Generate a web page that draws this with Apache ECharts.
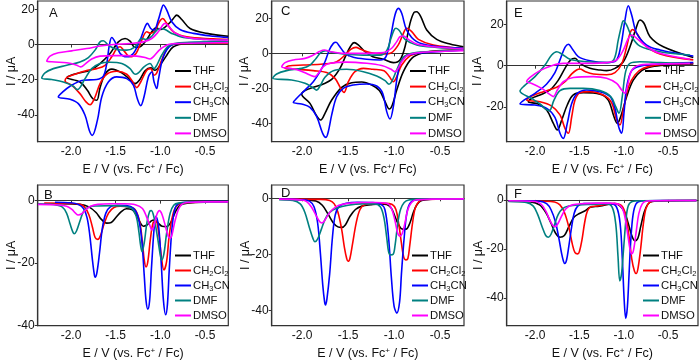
<!DOCTYPE html>
<html><head><meta charset="utf-8">
<script src="https://cdn.jsdelivr.net/npm/echarts@6/dist/echarts.min.js"></script>
<style>html,body{margin:0;padding:0;background:#fff}#c{width:700px;height:364px}</style>
</head><body><div id="c"></div>
<script>
// ---------- tick labels ----------
const xTicks = [-2.0, -1.5, -1.0, -0.5];
const yTicksA = [20, 0, -20, -40];
const yTicksC = [20, 0, -20, -40];
const yTicksE = [20, 0, -20];
const yTicksBottom = [0, -20, -40];
const solvents = ['THF', 'CH2Cl2', 'CH3CN', 'DMF', 'DMSO'];

// ---------- Panel A (CV) : [E / V, I / uA] ----------
const A_THF = [[-0.24,1.1],[-0.705,0.6],[-0.854,-1.3],[-0.928,-6.1],[-1.003,-11.8],[-1.06,-14.6],[-1.108,-13.3],[-1.171,-15.0],[-1.235,-20.3],[-1.283,-22.2],[-1.339,-19.9],[-1.432,-16.1],[-1.544,-14.0],[-1.619,-16.9],[-1.675,-24.5],[-1.712,-31.7],[-1.758,-30.7],[-1.817,-26.0],[-1.9,-21.3],[-2.048,-18.8],
[-1.992,-17.3],[-1.9,-16.1],[-1.787,-14.6],[-1.675,-10.8],[-1.563,-5.1],[-1.47,1.5],[-1.395,3.4],[-1.339,1.9],[-1.283,-1.7],[-1.227,-1.3],[-1.152,2.8],[-1.096,7.2],[-1.048,9.5],[-0.996,8.5],[-0.91,11.6],[-0.854,14.8],[-0.816,16.7],[-0.76,14.2],[-0.667,9.1],[-0.48,6.3],[-0.24,4.7]];
const A_CH2Cl2 = [[-0.24,0.9],[-0.78,0.6],[-0.91,-1.3],[-0.985,-8.9],[-1.04,-16.1],[-1.07,-17.5],[-1.108,-13.7],[-1.152,-14.6],[-1.22,-21.3],[-1.264,-24.5],[-1.309,-21.3],[-1.376,-16.9],[-1.488,-15.2],[-1.6,-16.9],[-1.675,-22.2],[-1.731,-29.8],[-1.787,-34.2],[-1.832,-32.6],[-1.9,-27.9],[-1.992,-23.1],[-2.067,-20.7],
[-2.048,-18.8],[-1.955,-16.9],[-1.843,-15.0],[-1.712,-13.7],[-1.619,-11.8],[-1.544,-7.0],[-1.488,-2.3],[-1.45,-1.3],[-1.407,-3.6],[-1.339,-7.0],[-1.272,-5.1],[-1.208,2.5],[-1.152,7.2],[-1.108,6.3],[-1.06,7.8],[-1.011,12.9],[-0.973,14.8],[-0.928,12.0],[-0.854,7.2],[-0.705,4.4],[-0.407,3.2],[-0.24,2.8]];
const A_CH3CN = [[-0.24,1.5],[-0.705,0.9],[-0.877,-0.4],[-0.966,-7.0],[-1.023,-20.3],[-1.04,-25.0],[-1.07,-21.3],[-1.096,-15.6],[-1.134,-18.4],[-1.183,-29.8],[-1.22,-34.7],[-1.258,-30.7],[-1.302,-23.1],[-1.376,-19.4],[-1.488,-18.4],[-1.582,-21.3],[-1.656,-29.8],[-1.705,-43.1],[-1.762,-51.6],[-1.795,-48.8],[-1.843,-40.2],[-1.918,-33.6],[-2.011,-31.1],[-2.142,-29.8],
[-2.104,-27.5],[-2.011,-23.7],[-1.862,-20.3],[-1.712,-19.9],[-1.638,-18.0],[-1.6,-10.8],[-1.571,-0.4],[-1.544,4.0],[-1.507,1.5],[-1.45,-5.1],[-1.376,-7.0],[-1.302,-5.1],[-1.227,2.5],[-1.171,10.1],[-1.145,12.0],[-1.108,9.1],[-1.071,8.2],[-1.023,13.9],[-0.985,20.5],[-0.966,22.4],[-0.928,19.5],[-0.872,12.9],[-0.78,8.5],[-0.63,6.3],[-0.407,4.7],[-0.24,4.0]];
const A_DMF = [[-0.24,1.5],[-0.78,0.9],[-0.91,-0.9],[-0.985,-6.1],[-1.04,-11.8],[-1.07,-13.7],[-1.115,-10.8],[-1.183,-12.7],[-1.246,-16.1],[-1.283,-16.9],[-1.339,-13.7],[-1.432,-10.8],[-1.563,-10.1],[-1.675,-10.8],[-1.768,-13.7],[-1.843,-19.4],[-1.9,-24.5],[-1.93,-25.6],[-1.974,-23.7],[-2.086,-21.3],[-2.216,-19.9],[-2.328,-19.0],
[-2.291,-16.1],[-2.198,-13.7],[-2.048,-11.8],[-1.9,-9.9],[-1.806,-7.4],[-1.731,-3.2],[-1.675,1.5],[-1.638,2.1],[-1.582,-0.4],[-1.488,-2.8],[-1.376,-3.2],[-1.283,-1.3],[-1.208,3.4],[-1.152,2.8],[-1.096,4.7],[-1.04,8.2],[-1.003,9.1],[-0.947,8.5],[-0.872,6.3],[-0.742,4.0],[-0.48,2.8],[-0.24,2.5]];
const A_DMSO = [[-0.24,1.1],[-0.78,0.6],[-0.91,0],[-1.003,-2.8],[-1.071,-6.6],[-1.115,-8.2],[-1.171,-7.4],[-1.264,-6.6],[-1.376,-6.3],[-1.526,-6.3],[-1.675,-6.6],[-1.768,-8.2],[-1.843,-11.2],[-1.892,-12.7],[-1.944,-11.6],[-2.048,-10.4],[-2.179,-9.9],[-2.272,-9.5],
[-2.235,-6.6],[-2.142,-4.7],[-1.992,-3.6],[-1.824,-2.3],[-1.675,-0.9],[-1.526,0],[-1.339,0.6],[-1.19,1.5],[-1.096,3.4],[-1.023,7.2],[-0.973,11.0],[-0.947,12.0],[-0.91,10.4],[-0.835,6.6],[-0.705,4.0],[-0.48,2.8],[-0.24,2.5]];

// ---------- Panel B (DPV) ----------
const B_THF = [[-2.30,-1.0],[-2.1,-1.0],[-1.9,-1.2],[-1.8,-2.0],[-1.72,-3.8],[-1.66,-6.0],[-1.60,-7.2],[-1.55,-7.0],[-1.50,-5.5],[-1.44,-3.6],[-1.38,-2.6],[-1.32,-2.8],[-1.27,-4.5],[-1.22,-7.3],[-1.19,-8.2],[-1.15,-7.8],[-1.10,-6.5],[-1.07,-6.2],[-1.03,-7.0],[-0.98,-8.2],[-0.93,-8.3],[-0.88,-6.8],[-0.83,-3.5],[-0.78,-1.5],[-0.7,-0.8],[-0.5,-0.5],[-0.24,-0.5]];
const B_CH2Cl2 = [[-2.30,-0.8],[-2.0,-0.9],[-1.90,-1.2],[-1.85,-2.0],[-1.80,-4.5],[-1.76,-8.5],[-1.73,-11.8],[-1.70,-12.4],[-1.67,-11.2],[-1.63,-7.5],[-1.58,-4.0],[-1.52,-2.2],[-1.45,-1.8],[-1.35,-2.0],[-1.28,-3.0],[-1.23,-7.0],[-1.20,-13.5],[-1.18,-19.0],[-1.16,-21.2],[-1.14,-19.5],[-1.11,-12.0],[-1.08,-7.0],[-1.05,-6.5],[-1.02,-10],[-0.99,-17.5],[-0.96,-22.2],[-0.93,-19.5],[-0.90,-11],[-0.86,-4.5],[-0.82,-1.8],[-0.75,-0.8],[-0.5,-0.5],[-0.24,-0.4]];
const B_CH3CN = [[-2.18,-0.5],[-2.0,-0.7],[-1.92,-1.2],[-1.86,-2.5],[-1.82,-5.5],[-1.79,-11],[-1.76,-19],[-1.74,-23.5],[-1.73,-24.5],[-1.71,-23],[-1.68,-16.5],[-1.65,-9],[-1.61,-4],[-1.56,-2],[-1.48,-1.5],[-1.38,-1.6],[-1.30,-2.5],[-1.25,-5],[-1.21,-12],[-1.18,-24],[-1.16,-32],[-1.14,-34.7],[-1.12,-32],[-1.10,-22],[-1.07,-9],[-1.05,-5],[-1.02,-8],[-0.99,-20],[-0.965,-32],[-0.94,-36.5],[-0.92,-33],[-0.90,-22],[-0.87,-9],[-0.84,-3],[-0.80,-1],[-0.7,-0.5],[-0.5,-0.3],[-0.24,-0.3]];
const B_DMF = [[-2.37,-1.0],[-2.2,-1.2],[-2.10,-2.0],[-2.05,-4.0],[-2.01,-7.5],[-1.98,-10],[-1.965,-10.6],[-1.94,-9.8],[-1.90,-6.5],[-1.86,-3.5],[-1.80,-2.0],[-1.70,-1.7],[-1.55,-1.6],[-1.40,-1.8],[-1.32,-2.5],[-1.27,-5],[-1.24,-10],[-1.22,-14.5],[-1.205,-16.3],[-1.18,-13.5],[-1.15,-7],[-1.12,-3.5],[-1.10,-3.2],[-1.07,-5.5],[-1.03,-12],[-1.00,-17.5],[-0.985,-19],[-0.96,-17],[-0.93,-10.5],[-0.89,-4],[-0.85,-1.5],[-0.8,-0.8],[-0.6,-0.5],[-0.24,-0.4]];
const B_DMSO = [[-2.37,-1.2],[-2.2,-1.3],[-2.05,-1.8],[-1.99,-2.8],[-1.95,-4.0],[-1.92,-4.6],[-1.88,-4.2],[-1.84,-3.0],[-1.78,-1.8],[-1.70,-1.2],[-1.55,-1.0],[-1.40,-1.0],[-1.28,-1.3],[-1.20,-2.5],[-1.15,-5.5],[-1.11,-8.5],[-1.095,-9.4],[-1.07,-8],[-1.04,-4.5],[-1.01,-3.2],[-0.98,-4.5],[-0.94,-8.5],[-0.91,-11.5],[-0.89,-12],[-0.87,-11],[-0.84,-7],[-0.80,-3],[-0.76,-1.2],[-0.7,-0.6],[-0.5,-0.4],[-0.24,-0.4]];

// ---------- Panel C (CV) ----------
const C_THF = [[-0.247,1.9],[-0.537,1.5],[-0.7,0],[-0.808,-2.9],[-0.899,-10.5],[-0.971,-21.0],[-1.019,-29.5],[-1.052,-31.8],[-1.098,-27.6],[-1.16,-21.3],[-1.243,-18.1],[-1.352,-16.4],[-1.46,-16.8],[-1.569,-19.4],[-1.678,-26.7],[-1.751,-34.3],[-1.797,-38.1],[-1.848,-35.2],[-1.914,-28.6],[-2.004,-23.2],
[-1.968,-21.3],[-1.878,-19.4],[-1.769,-17.5],[-1.678,-14.9],[-1.588,-8.6],[-1.522,-1.0],[-1.471,4.2],[-1.435,6.1],[-1.389,4.8],[-1.316,1.0],[-1.231,-1.9],[-1.117,-3.4],[-1.008,-5.3],[-0.936,-3.8],[-0.881,3.8],[-0.827,17.1],[-0.783,23.4],[-0.754,23.8],[-0.71,21.0],[-0.645,13.3],[-0.537,8.0],[-0.392,5.3],[-0.247,3.8]];
const C_CH2Cl2 = [[-0.247,1.9],[-0.537,1.3],[-0.718,0.4],[-0.827,-1.5],[-0.917,-6.7],[-0.971,-13.3],[-1.008,-16.2],[-1.052,-13.3],[-1.109,-9.9],[-1.231,-9.1],[-1.334,-8.6],[-1.425,-10.5],[-1.497,-16.2],[-1.544,-22.3],[-1.58,-20.0],[-1.642,-14.3],[-1.732,-11.0],[-1.878,-9.9],[-2.058,-9.1],[-2.185,-8.6],
[-2.15,-7.2],[-1.986,-6.7],[-1.769,-6.1],[-1.624,-4.8],[-1.533,-1.0],[-1.471,2.3],[-1.414,3.4],[-1.362,2.3],[-1.262,0.4],[-1.117,-0.4],[-1.026,0.4],[-0.954,4.8],[-0.906,10.5],[-0.863,14.3],[-0.808,12.4],[-0.736,8.0],[-0.573,4.8],[-0.247,2.9]];
const C_CH3CN = [[-0.247,1.9],[-0.609,0.6],[-0.827,-0.6],[-0.917,-3.8],[-0.965,-13.3],[-1.008,-30.5],[-1.044,-37.5],[-1.08,-33.3],[-1.124,-22.9],[-1.189,-18.7],[-1.297,-17.5],[-1.443,-18.1],[-1.552,-20.0],[-1.624,-24.8],[-1.678,-35.2],[-1.715,-44.8],[-1.74,-48.0],[-1.776,-45.7],[-1.841,-36.2],[-1.914,-30.9],[-2.004,-29.0],[-2.095,-28.0],
[-2.058,-25.7],[-1.968,-21.0],[-1.878,-16.2],[-1.805,-10.5],[-1.751,-4.8],[-1.704,1.9],[-1.66,5.7],[-1.631,6.3],[-1.595,4.2],[-1.533,0],[-1.443,-2.3],[-1.297,-3.4],[-1.153,-3.8],[-1.088,-1.9],[-1.037,9.5],[-0.99,21.9],[-0.954,25.7],[-0.917,22.9],[-0.863,13.3],[-0.754,6.7],[-0.573,4.2],[-0.247,2.9]];
const C_DMF = [[-0.247,1.9],[-0.609,1.0],[-0.808,0],[-0.899,-2.3],[-0.971,-9.5],[-1.026,-16.2],[-1.055,-17.7],[-1.098,-15.6],[-1.189,-13.0],[-1.334,-10.5],[-1.515,-9.1],[-1.66,-9.9],[-1.751,-13.7],[-1.805,-18.7],[-1.841,-21.0],[-1.884,-19.6],[-1.968,-17.1],[-2.113,-15.2],[-2.319,-14.3],
[-2.276,-11.8],[-2.167,-9.9],[-2.004,-8.6],[-1.914,-6.7],[-1.848,-2.9],[-1.797,0.4],[-1.74,1.5],[-1.678,0.6],[-1.552,-0.4],[-1.334,-1.0],[-1.153,-1.0],[-1.08,1.5],[-1.037,8.0],[-1.001,13.3],[-0.979,14.3],[-0.943,13.0],[-0.881,8.0],[-0.754,4.8],[-0.537,3.4],[-0.247,2.5]];
const C_DMSO = [[-0.247,1.5],[-0.682,0.6],[-0.845,-1.0],[-0.917,-4.8],[-0.961,-9.1],[-0.99,-10.5],[-1.037,-9.0],[-1.135,-7.0],[-1.297,-5.7],[-1.515,-5.0],[-1.696,-5.7],[-1.769,-7.6],[-1.823,-11.4],[-1.859,-13.3],[-1.914,-12.4],[-2.022,-9.9],[-2.131,-8.6],[-2.221,-7.6],
[-2.185,-5.3],[-2.095,-3.8],[-1.968,-2.9],[-1.878,-1.0],[-1.812,1.0],[-1.758,1.9],[-1.696,1.0],[-1.552,0],[-1.334,0],[-1.117,0.4],[-1.026,2.9],[-0.971,6.7],[-0.936,9.5],[-0.899,9.9],[-0.845,8.0],[-0.754,5.3],[-0.573,3.8],[-0.247,2.5]];

// ---------- Panel D (DPV) ----------
const D_THF = [[-2.25,-0.3],[-2.0,-0.5],[-1.85,-1.0],[-1.78,-2.5],[-1.72,-5.5],[-1.66,-8.8],[-1.61,-10.2],[-1.57,-10.4],[-1.53,-9.5],[-1.48,-6.5],[-1.42,-4.0],[-1.35,-2.8],[-1.25,-2.3],[-1.15,-2.0],[-1.08,-2.2],[-1.03,-3.5],[-0.99,-6.5],[-0.95,-9.5],[-0.91,-11],[-0.87,-11],[-0.83,-9.0],[-0.79,-5],[-0.75,-2.2],[-0.70,-0.8],[-0.6,-0.3],[-0.24,-0.2]];
const D_CH2Cl2 = [[-2.25,-0.3],[-1.8,-0.4],[-1.7,-0.8],[-1.65,-2.0],[-1.61,-5.0],[-1.57,-11],[-1.54,-17.5],[-1.515,-21.5],[-1.50,-22.5],[-1.48,-21.5],[-1.45,-16],[-1.41,-8.5],[-1.37,-4.0],[-1.32,-2.3],[-1.2,-1.8],[-1.1,-1.8],[-1.02,-2.2],[-0.98,-4.0],[-0.95,-9],[-0.92,-16],[-0.895,-21],[-0.87,-22],[-0.85,-21.5],[-0.83,-17],[-0.80,-9],[-0.77,-3.5],[-0.73,-1.2],[-0.68,-0.5],[-0.5,-0.3],[-0.24,-0.2]];
const D_CH3CN = [[-2.25,-0.3],[-2.0,-0.5],[-1.92,-1.0],[-1.87,-3],[-1.83,-9],[-1.80,-20],[-1.775,-31],[-1.755,-37],[-1.745,-38.1],[-1.73,-36],[-1.70,-27],[-1.67,-14],[-1.64,-6],[-1.60,-3],[-1.52,-1.8],[-1.4,-1.4],[-1.25,-1.5],[-1.15,-2.0],[-1.10,-4],[-1.06,-14],[-1.03,-28],[-1.00,-38.5],[-0.97,-41],[-0.94,-37],[-0.92,-27],[-0.89,-14],[-0.86,-5],[-0.82,-1.5],[-0.75,-0.5],[-0.5,-0.3],[-0.24,-0.2]];
const D_DMF = [[-2.25,-0.5],[-2.1,-0.8],[-2.02,-2.0],[-1.97,-5],[-1.92,-10.5],[-1.88,-14.5],[-1.86,-15.5],[-1.83,-14.5],[-1.79,-11],[-1.75,-7.5],[-1.70,-5],[-1.62,-3.5],[-1.5,-2.5],[-1.35,-2.0],[-1.22,-2.0],[-1.15,-3],[-1.11,-7],[-1.08,-14],[-1.06,-19],[-1.04,-20.2],[-1.01,-20],[-0.99,-17],[-0.96,-9],[-0.93,-4],[-0.89,-1.5],[-0.84,-0.6],[-0.7,-0.3],[-0.24,-0.2]];
const D_DMSO = [[-2.25,-0.3],[-2.0,-0.6],[-1.95,-1.2],[-1.90,-3],[-1.85,-6],[-1.81,-8.3],[-1.785,-8.8],[-1.76,-8.2],[-1.72,-6],[-1.67,-4],[-1.60,-2.5],[-1.5,-1.8],[-1.35,-1.5],[-1.2,-1.5],[-1.08,-1.8],[-1.03,-3.5],[-0.99,-8],[-0.96,-12.5],[-0.935,-13.5],[-0.91,-12.5],[-0.88,-8.5],[-0.85,-4],[-0.81,-1.5],[-0.76,-0.5],[-0.6,-0.3],[-0.24,-0.2]];

// ---------- Panel E (CV) ----------
const E_THF = [[-0.216,0.8],[-0.516,0.3],[-0.685,-0.5],[-0.798,-2.4],[-0.893,-7.0],[-0.967,-15.0],[-1.035,-24.8],[-1.073,-28.0],[-1.11,-24.8],[-1.175,-16.7],[-1.268,-13.8],[-1.456,-13.1],[-1.569,-14.2],[-1.637,-19.1],[-1.7,-26.4],[-1.749,-31.2],[-1.794,-28.0],[-1.869,-21.5],[-1.964,-18.6],[-2.076,-17.5],
[-2.039,-15.9],[-1.945,-14.2],[-1.832,-11.8],[-1.738,-7.0],[-1.663,-1.3],[-1.599,2.8],[-1.55,3.6],[-1.494,1.1],[-1.381,-1.3],[-1.268,-2.1],[-1.193,-2.4],[-1.099,-1.3],[-1.005,1.9],[-0.93,9.2],[-0.862,18.1],[-0.817,22.2],[-0.772,20.6],[-0.704,14.1],[-0.554,9.2],[-0.216,4.0]];
const E_CH2Cl2 = [[-0.216,1.1],[-0.592,0.5],[-0.78,-1.3],[-0.874,-4.5],[-0.949,-10.5],[-1.005,-21.5],[-1.043,-28.8],[-1.08,-26.4],[-1.136,-18.0],[-1.231,-14.2],[-1.381,-12.6],[-1.494,-13.1],[-1.55,-16.7],[-1.587,-24.8],[-1.625,-32.8],[-1.663,-30.4],[-1.719,-23.9],[-1.813,-19.6],[-1.945,-17.5],[-2.095,-16.7],
[-2.05,-15.0],[-1.907,-12.6],[-1.756,-10.5],[-1.663,-7.8],[-1.587,-4.0],[-1.532,-2.1],[-1.494,-1.6],[-1.437,-2.8],[-1.343,-4.0],[-1.193,-4.4],[-1.099,-3.4],[-1.024,0.8],[-0.967,9.2],[-0.93,15.7],[-0.9,17.6],[-0.854,15.7],[-0.761,10.0],[-0.592,5.7],[-0.216,2.8]];
const E_CH3CN = [[-0.216,1.5],[-0.592,0.8],[-0.817,-0.2],[-0.911,-2.4],[-0.967,-10.2],[-0.998,-23.1],[-1.024,-32.8],[-1.058,-29.6],[-1.099,-20.7],[-1.155,-15.0],[-1.268,-12.6],[-1.418,-11.8],[-1.524,-13.4],[-1.587,-18.3],[-1.637,-28.0],[-1.682,-35.3],[-1.719,-32.8],[-1.776,-25.1],[-1.869,-20.7],[-2.001,-19.1],[-2.17,-18.6],
[-2.125,-16.7],[-2.001,-13.4],[-1.869,-8.9],[-1.776,-3.4],[-1.719,2.8],[-1.663,8.9],[-1.625,10.4],[-1.576,7.9],[-1.513,4.4],[-1.381,2.4],[-1.193,1.5],[-1.088,2.4],[-1.035,9.2],[-0.986,22.2],[-0.949,29.1],[-0.911,24.6],[-0.854,15.7],[-0.742,10.0],[-0.592,7.6],[-0.404,6.0],[-0.216,4.7]];
const E_DMF = [[-0.254,1.1],[-0.592,1.5],[-0.817,1.9],[-0.93,1.1],[-0.979,-2.9],[-1.017,-15.0],[-1.054,-23.1],[-1.091,-19.9],[-1.147,-15.0],[-1.268,-12.1],[-1.456,-11.0],[-1.606,-11.0],[-1.719,-12.1],[-1.787,-16.7],[-1.839,-21.8],[-1.877,-21.2],[-1.945,-18.6],[-2.039,-15.9],[-2.17,-12.3],
[-2.125,-9.9],[-2.001,-5.3],[-1.888,0.3],[-1.813,5.2],[-1.756,6.8],[-1.7,5.7],[-1.606,3.1],[-1.418,1.9],[-1.193,1.5],[-1.11,3.1],[-1.062,12.5],[-1.024,19.7],[-1.005,21.8],[-0.967,19.7],[-0.911,14.1],[-0.817,9.5],[-0.592,6.8],[-0.254,5.2]];
const E_DMSO = [[-0.254,1.1],[-0.592,0.8],[-0.817,0.3],[-0.911,-2.4],[-0.956,-9.4],[-0.986,-13.4],[-1.024,-11.8],[-1.08,-8.6],[-1.193,-6.1],[-1.343,-5.3],[-1.569,-5.7],[-1.682,-7.8],[-1.749,-11.8],[-1.794,-15.0],[-1.839,-13.8],[-1.926,-11.0],[-2.039,-8.6],[-2.095,-7.8],
[-2.057,-5.7],[-1.945,-2.4],[-1.813,0],[-1.682,1.1],[-1.418,1.1],[-1.193,1.5],[-1.08,2.8],[-1.005,7.6],[-0.949,13.3],[-0.911,14.9],[-0.854,13.3],[-0.742,9.2],[-0.592,6.0],[-0.254,3.1]];

// ---------- Panel F (DPV) ----------
const F_THF = [[-2.3,-0.5],[-2.05,-0.8],[-1.95,-2.0],[-1.88,-5],[-1.82,-9.5],[-1.77,-13.5],[-1.72,-15.2],[-1.67,-14.5],[-1.62,-11],[-1.56,-7],[-1.50,-5.5],[-1.44,-4.5],[-1.38,-3],[-1.32,-2.7],[-1.26,-2.5],[-1.18,-1.8],[-1.10,-1.5],[-1.04,-2.5],[-0.99,-5],[-0.95,-9.5],[-0.91,-14.5],[-0.875,-16.7],[-0.84,-15.5],[-0.81,-11],[-0.77,-5],[-0.73,-1.8],[-0.68,-0.6],[-0.5,-0.3],[-0.18,-0.2]];
const F_CH2Cl2 = [[-2.3,-0.4],[-1.9,-0.5],[-1.78,-0.8],[-1.72,-2],[-1.67,-5],[-1.62,-11],[-1.58,-18],[-1.55,-21.5],[-1.52,-22],[-1.50,-21],[-1.47,-16],[-1.44,-9],[-1.41,-4.5],[-1.37,-2.8],[-1.30,-2.5],[-1.2,-1.8],[-1.1,-1.5],[-1.02,-2.5],[-0.98,-6],[-0.94,-15],[-0.91,-24],[-0.88,-29],[-0.86,-30],[-0.84,-28],[-0.81,-20],[-0.78,-10],[-0.75,-3.5],[-0.71,-1.0],[-0.65,-0.4],[-0.4,-0.2],[-0.18,-0.2]];
const F_CH3CN = [[-2.3,-0.3],[-1.95,-0.5],[-1.87,-1.5],[-1.82,-4],[-1.77,-9],[-1.73,-16],[-1.70,-22],[-1.68,-25],[-1.665,-25.9],[-1.645,-24.5],[-1.62,-19],[-1.59,-11.5],[-1.56,-5.5],[-1.52,-2.5],[-1.45,-1.5],[-1.35,-1.5],[-1.25,-1.5],[-1.15,-1.5],[-1.08,-3],[-1.04,-10],[-1.015,-25],[-0.995,-41],[-0.978,-48.3],[-0.96,-44],[-0.94,-30],[-0.92,-16],[-0.895,-6],[-0.86,-1.5],[-0.8,-0.4],[-0.5,-0.2],[-0.18,-0.2]];
const F_DMF = [[-2.3,-0.6],[-2.1,-1.0],[-2.02,-2.5],[-1.97,-6],[-1.92,-11],[-1.88,-14.5],[-1.85,-15.2],[-1.82,-14],[-1.78,-10],[-1.74,-6],[-1.69,-3.5],[-1.62,-2.5],[-1.5,-2],[-1.35,-1.8],[-1.2,-1.5],[-1.13,-3],[-1.09,-10],[-1.065,-23],[-1.045,-33],[-1.025,-30],[-1.0,-19],[-0.975,-8],[-0.95,-2.5],[-0.91,-0.7],[-0.8,-0.3],[-0.18,-0.2]];
const F_DMSO = [[-2.3,-0.3],[-2.0,-0.6],[-1.93,-1.8],[-1.88,-4.5],[-1.83,-8.5],[-1.79,-10.8],[-1.77,-10.9],[-1.74,-9.5],[-1.70,-6.5],[-1.65,-3.5],[-1.58,-2],[-1.45,-1.5],[-1.3,-1.3],[-1.15,-1.3],[-1.05,-2],[-1.0,-5],[-0.96,-13],[-0.93,-20],[-0.91,-22],[-0.89,-20.5],[-0.86,-13],[-0.83,-5.5],[-0.79,-1.5],[-0.74,-0.4],[-0.5,-0.2],[-0.18,-0.2]];

// ---------- chart assembly ----------
const FONT = '"Liberation Sans", Arial, Helvetica, sans-serif';
const COLORS = ['#000000', '#ff0000', '#0000ff', '#008080', '#ff00ff'];
const LABELS = {THF: 'THF', CH2Cl2: 'CH{sub|2}Cl{sub|2}', CH3CN: 'CH{sub|3}CN', DMF: 'DMF', DMSO: 'DMSO'};
const panels = [
  {tag: 'A', series: [A_THF, A_CH2Cl2, A_CH3CN, A_DMF, A_DMSO], yTicks: yTicksA,
   grid: {left: 37.7, top: 1, width: 190.6, height: 140.7}, xr: [-2.373, -0.239], yr: [-55.2, 24.7],
   legend: {left: 175, top: 64, gap: 1.6}, tagPos: [49, 7], xName: 'E / V (vs. Fc{sup|+} / Fc)', yGap: 20},
  {tag: 'C', series: [C_THF, C_CH2Cl2, C_CH3CN, C_DMF, C_DMSO], yTicks: yTicksC,
   grid: {left: 271.7, top: 1, width: 192.3, height: 140.7}, xr: [-2.33, -0.24], yr: [-50.5, 29.9],
   legend: {left: 410, top: 64, gap: 1.6}, tagPos: [281, 5], xName: 'E / V (vs. Fc{sup|+}/ Fc)', yGap: 21},
  {tag: 'E', series: [E_THF, E_CH2Cl2, E_CH3CN, E_DMF, E_DMSO], yTicks: yTicksE,
   grid: {left: 506.7, top: 1, width: 191.3, height: 140.7}, xr: [-2.32, -0.163], yr: [-36.9, 31.4],
   legend: {left: 645, top: 64, gap: 1.6}, tagPos: [514, 7], xName: 'E / V (vs. Fc{sup|+} / Fc)', yGap: 23},
  {tag: 'B', series: [B_THF, B_CH2Cl2, B_CH3CN, B_DMF, B_DMSO], yTicks: yTicksBottom,
   grid: {left: 37.7, top: 185, width: 190.6, height: 140.7}, xr: [-2.373, -0.239], yr: [-40, 5],
   legend: {left: 175, top: 248.5, gap: 1}, tagPos: [44, 189], xName: 'E / V (vs. Fc{sup|+} / Fc)', yGap: 20},
  {tag: 'D', series: [D_THF, D_CH2Cl2, D_CH3CN, D_DMF, D_DMSO], yTicks: yTicksBottom,
   grid: {left: 271.7, top: 185, width: 192.3, height: 140.7}, xr: [-2.33, -0.24], yr: [-45.5, 4.75],
   legend: {left: 412, top: 248.5, gap: 1}, tagPos: [281, 187], xName: 'E / V (vs. Fc{sup|+} / Fc)', yGap: 20},
  {tag: 'F', series: [F_THF, F_CH2Cl2, F_CH3CN, F_DMF, F_DMSO], yTicks: yTicksBottom,
   grid: {left: 506.7, top: 185, width: 191.3, height: 140.7}, xr: [-2.32, -0.163], yr: [-51.3, 6.1],
   legend: {left: 643, top: 248.5, gap: 1}, tagPos: [514, 188], xName: 'E / V (vs. Fc{sup|+} / Fc)', yGap: 22}
];

const textBase = {fontFamily: FONT, color: '#111'};
const option = {
  animation: false,
  backgroundColor: '#ffffff',
  grid: panels.map(p => Object.assign({show: true, borderColor: '#333', borderWidth: 1.2, backgroundColor: 'transparent'}, p.grid)),
  xAxis: panels.map((p, i) => ({
    type: 'value', gridIndex: i, min: p.xr[0], max: p.xr[1],
    axisLine: {show: true, lineStyle: {color: '#333', width: 1.2}},
    axisTick: {show: true, inside: false, length: 3, customValues: xTicks, lineStyle: {color: '#333'}},
    axisLabel: Object.assign({customValues: xTicks, formatter: v => Number(v).toFixed(1), fontSize: 12, margin: 4}, textBase),
    splitLine: {show: false},
    name: p.xName, nameLocation: 'middle', nameGap: 21, nameMoveOverlap: false,
    nameTextStyle: Object.assign({fontSize: 12.5, lineHeight: 14, rich: {sup: {fontSize: 8, lineHeight: 7, verticalAlign: 'top', fontFamily: FONT, color: '#111'}}}, textBase)
  })),
  yAxis: panels.map((p, i) => ({
    type: 'value', gridIndex: i, min: p.yr[0], max: p.yr[1],
    axisLine: {show: true, lineStyle: {color: '#333', width: 1.2}},
    axisTick: {show: true, inside: false, length: 3, customValues: p.yTicks, lineStyle: {color: '#333'}},
    axisLabel: Object.assign({customValues: p.yTicks, formatter: v => String(Math.round(v)), fontSize: 12, margin: 3}, textBase),
    splitLine: {show: false},
    name: 'I / μA', nameLocation: 'middle', nameGap: p.yGap, nameMoveOverlap: false,
    nameTextStyle: Object.assign({fontSize: 12.5}, textBase)
  })),
  title: panels.map(p => ({text: p.tag, left: p.tagPos[0], top: p.tagPos[1], padding: 0,
    textStyle: {fontSize: 13, fontWeight: 'normal', fontFamily: FONT, color: '#111'}})),
  legend: panels.map(p => ({
    data: solvents, orient: 'vertical', left: p.legend.left, top: p.legend.top, padding: 0,
    itemGap: p.legend.gap, itemWidth: 16, itemHeight: 2, icon: 'rect', selectedMode: false,
    formatter: n => LABELS[n],
    textStyle: Object.assign({fontSize: 11.3, lineHeight: 14, padding: [0, 0, 0, -3],
      rich: {sub: {fontSize: 7.5, lineHeight: 7, verticalAlign: 'bottom', fontFamily: FONT, color: '#111'}}}, textBase)
  })),
  series: []
};
panels.forEach((p, i) => {
  p.series.forEach((d, k) => {
    option.series.push({
      type: 'line', name: solvents[k], xAxisIndex: i, yAxisIndex: i, data: d,
      showSymbol: false, symbol: 'none', smooth: 0.35,
      lineStyle: {color: COLORS[k], width: 1.6}, itemStyle: {color: COLORS[k]},
      emphasis: {disabled: true}
    });
  });
});
const chart = echarts.init(document.getElementById('c'), null, {renderer: 'canvas'});
chart.setOption(option);
</script></body></html>
